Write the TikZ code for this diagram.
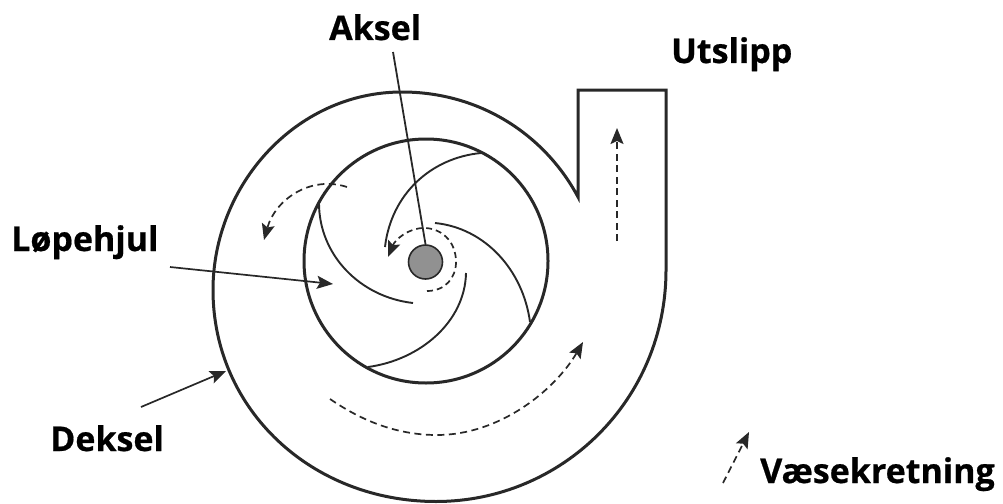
\documentclass[tikz,border=0pt]{standalone}
\usepackage{fontspec}
\setmainfont{Open Sans}[BoldFeatures={FakeBold=0.6}]
\usetikzlibrary{arrows.meta}
\definecolor{ink}{RGB}{40,40,40}
\tikzset{
 lab/.style={font=\bfseries\fontsize{34}{38}\selectfont,text=black,inner sep=0pt,anchor=base west},
 wall/.style={draw=ink,line width=3pt},
 blade/.style={draw=ink,line width=1.9pt},
 tip/.style={-{Stealth[length=16pt,width=13pt,inset=3pt]}},
 lead/.style={draw=ink,line width=1.7pt,tip},
 flow/.style={draw=ink,line width=1.7pt,dash pattern=on 7pt off 4.5pt,tip}
}
\begin{document}
\begin{tikzpicture}[x=1pt,y=-1pt]
\useasboundingbox (0,0) rectangle (1003,503);
\node[lab] (aksel) at (329,40) {Aksel};
\node[lab] (utslipp) at (671,63) {Utslipp};
\node[lab] (lopehjul) at (11,251) {Løpehjul};
\node[lab] (deksel) at (50,451) {Deksel};
\node[lab] (vaeske) at (760,483) {Væsekretning};
% casing
\draw[wall,line join=miter] (578,197) .. controls (545,135) and (480,92) .. (402,92)
 .. controls (296,92) and (213,185) .. (213,290)
 .. controls (213,410) and (312,501.5) .. (436,501.5)
 .. controls (562,501.5) and (666,400) .. (666,270) -- (666,90) -- (578,90) -- cycle;
% impeller
\node[circle,wall,minimum size=244pt,inner sep=0pt] (imp) at (426,261) {};
\node[circle,draw=ink,line width=1.6pt,fill=gray!85!black!75,minimum size=34pt,inner sep=0pt] (hub) at (425.5,262) {};
\coordinate (b1a) at (481,153); \coordinate (b1b) at (385,247);
\coordinate (b2a) at (435,223); \coordinate (b2b) at (530,322);
\coordinate (b3a) at (466,273); \coordinate (b3b) at (368,367);
\coordinate (b4a) at (319,203); \coordinate (b4b) at (413,303);
\draw[blade] (b1a) .. controls (430,158) and (391,195) .. (b1b);
\draw[blade] (b2a) .. controls (485,228) and (523,270) .. (b2b);
\draw[blade] (b3a) .. controls (465,322) and (420,360) .. (b3b);
\draw[blade] (b4a) .. controls (319,255) and (360,297) .. (b4b);
% leaders
\coordinate (ak0) at (393,52);
\draw[draw=ink,line width=1.8pt] (ak0) -- (hub.north);
\coordinate (lo0) at (170,267); \coordinate (lo1) at (333,284);
\draw[lead] (lo0) -- (lo1);
\coordinate (de0) at (141,407); \coordinate (de1) at (226,371);
\draw[lead] (de0) -- (de1);
% flows
\coordinate (f1a) at (427,291); \coordinate (f1b) at (388,257);
\draw[flow,dash pattern=on 6pt off 4pt] (f1a) .. controls (445,291) and (456,278) .. (456,262)
 .. controls (456,240) and (440,228) .. (424,228) .. controls (408,228) and (395,240) .. (f1b);
\coordinate (f2a) at (347,187); \coordinate (f2b) at (264,240);
\draw[flow] (f2a) .. controls (310,175) and (275,200) .. (f2b);
\coordinate (f3a) at (330,399); \coordinate (f3b) at (583,342);
\draw[flow] (f3a) .. controls (365,423) and (400,435) .. (437,435) .. controls (500,435) and (555,390) .. (f3b);
\coordinate (f4a) at (617,241); \coordinate (f4b) at (617,128);
\draw[flow] (f4a) -- (f4b);
\coordinate (f5a) at (723,483); \coordinate (f5b) at (749,432);
\draw[flow] (f5a) -- (f5b);
\end{tikzpicture}
\end{document}
